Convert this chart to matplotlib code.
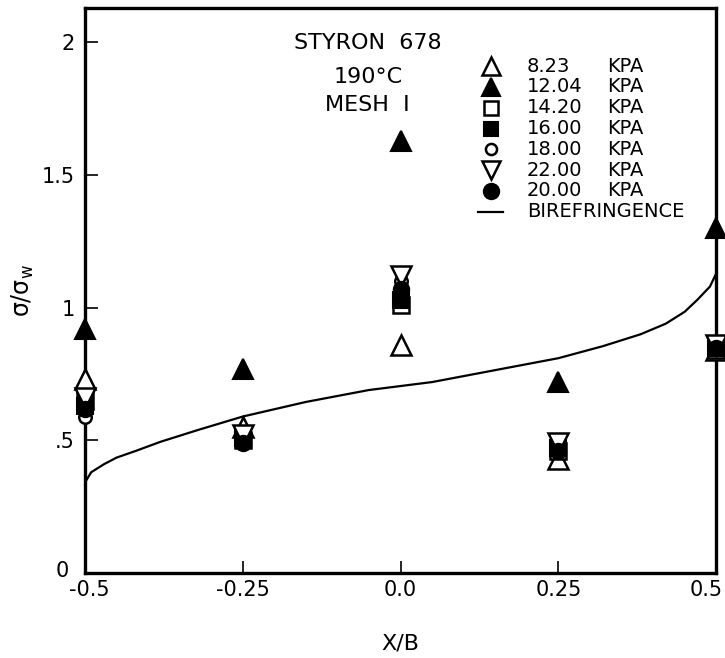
import matplotlib
matplotlib.use("Agg")
import matplotlib.pyplot as plt
from matplotlib.lines import Line2D
import matplotlib.transforms as mtransforms

plt.rcParams['font.family'] = ['DejaVu Sans']
plt.rcParams['mathtext.default'] = 'regular'

# Data
x_pos = [-0.5, -0.25, 0.0, 0.25, 0.5]
pressures = ["8.23", "12.04", "14.20", "16.00", "18.00", "22.00", "20.00"]
kpa_823 = [0.73, 0.55, 0.86, 0.43, 0.84]
kpa_1204 = [0.92, 0.77, 1.63, 0.72, 1.30]
kpa_1420 = [0.65, 0.50, 1.01, 0.46, 0.84]
kpa_1600 = [0.63, 0.51, 1.03, 0.47, 0.85]
kpa_1800 = [0.59, 0.50, 1.10, 0.48, 0.85]
kpa_2200 = [0.66, 0.52, 1.12, 0.49, 0.86]
kpa_2000 = [0.62, 0.49, 1.07, 0.46, 0.85]

biref_x = [-0.5, -0.49, -0.47, -0.45, -0.42, -0.38, -0.32, -0.25, -0.15, -0.05, 0.0,
           0.05, 0.15, 0.25, 0.32, 0.38, 0.42, 0.45, 0.47, 0.49, 0.5]
biref_y = [0.34, 0.38, 0.41, 0.435, 0.46, 0.495, 0.54, 0.59, 0.645, 0.69, 0.705,
           0.72, 0.765, 0.81, 0.855, 0.90, 0.94, 0.985, 1.03, 1.08, 1.13]

xticks = [-0.5, -0.25, 0.0, 0.25, 0.5]
xticklabels = ["-0.5", "-0.25", "0.0", "0.25", "0.5"]
yticks = [0, 0.5, 1, 1.5, 2]
yticklabels = ["0", ".5", "1", "1.5", "2"]

fig = plt.figure(figsize=(7.25, 6.58), dpi=100)
ax = fig.add_axes([0.117, 0.129, 0.871, 0.859])

styles = [
    (kpa_823, dict(marker='^', mfc='white', mec='black', ms=15, mew=1.8)),
    (kpa_1204, dict(marker='^', mfc='black', mec='black', ms=15, mew=1.5)),
    (kpa_1420, dict(marker='s', mfc='white', mec='black', ms=11, mew=1.8)),
    (kpa_1600, dict(marker='s', mfc='black', mec='black', ms=11, mew=1.5)),
    (kpa_1800, dict(marker='o', mfc='white', mec='black', ms=9, mew=1.8)),
    (kpa_2200, dict(marker='v', mfc='white', mec='black', ms=15, mew=1.8)),
    (kpa_2000, dict(marker='o', mfc='black', mec='black', ms=11, mew=1.5)),
]
order = [0, 2, 5, 4, 3, 6, 1]
for i in order:
    vals, st = styles[i]
    ax.plot(x_pos, vals, linestyle='none', clip_on=False, zorder=3 + i * 0.01, **st)

ax.plot(biref_x, biref_y, color='black', lw=1.6, zorder=2)

ax.set_xlim(-0.5, 0.5)
ax.set_ylim(0, 2.13)
ax.set_xticks(xticks)
ax.set_xticklabels(xticklabels)
ax.set_yticks(yticks)
ax.set_yticklabels(yticklabels)
ax.tick_params(direction='in', length=9, width=1.2, labelsize=15, pad=7)
ax.tick_params(axis='x', pad=5)
for sp in ax.spines.values():
    sp.set_linewidth(2.4)

# nudge edge tick labels as in the reference
xl = ax.get_xticklabels()
xl[-1].set_transform(xl[-1].get_transform() + mtransforms.ScaledTranslation(-10 / 100, 0, fig.dpi_scale_trans))
xl[0].set_transform(xl[0].get_transform() + mtransforms.ScaledTranslation(4 / 100, 0, fig.dpi_scale_trans))
yl = ax.get_yticklabels()
yl[0].set_transform(yl[0].get_transform() + mtransforms.ScaledTranslation(-6 / 100, 4 / 100, fig.dpi_scale_trans))

ax.set_xlabel("X/B", fontsize=16, labelpad=24)
ax.set_ylabel("σ/σ$_w$", fontsize=17, labelpad=4)

# Annotation text
ax.text(0.448, 0.938, "STYRON  678", transform=ax.transAxes, ha='center', va='center', fontsize=16)
ax.text(0.448, 0.878, "190°C", transform=ax.transAxes, ha='center', va='center', fontsize=16)
ax.text(0.448, 0.828, "MESH  I", transform=ax.transAxes, ha='center', va='center', fontsize=16)

# Manual legend
leg_mx = 0.643
leg_tx = 0.70
leg_kx = 0.827
y0 = 0.897
dy = 0.0368
leg_styles = [
    dict(marker='^', mfc='white', mec='black', ms=13, mew=1.8),
    dict(marker='^', mfc='black', mec='black', ms=13, mew=1.5),
    dict(marker='s', mfc='white', mec='black', ms=10, mew=1.8),
    dict(marker='s', mfc='black', mec='black', ms=10, mew=1.5),
    dict(marker='o', mfc='white', mec='black', ms=8, mew=1.8),
    dict(marker='v', mfc='white', mec='black', ms=13, mew=1.8),
    dict(marker='o', mfc='black', mec='black', ms=11, mew=1.5),
]
for k, (p, st) in enumerate(zip(pressures, leg_styles)):
    yy = y0 - k * dy
    ax.plot([leg_mx], [yy], transform=ax.transAxes, linestyle='none', clip_on=False, **st)
    ax.text(leg_tx, yy, p, transform=ax.transAxes, ha='left', va='center', fontsize=14)
    ax.text(leg_kx, yy, "KPA", transform=ax.transAxes, ha='left', va='center', fontsize=14)
yy = y0 - 7 * dy
ax.add_line(Line2D([leg_mx - 0.02, leg_mx + 0.02], [yy, yy], transform=ax.transAxes, color='black', lw=1.6))
ax.text(leg_tx, yy, "BIREFRINGENCE", transform=ax.transAxes, ha='left', va='center', fontsize=14)

fig.savefig("out.png", dpi=100)
